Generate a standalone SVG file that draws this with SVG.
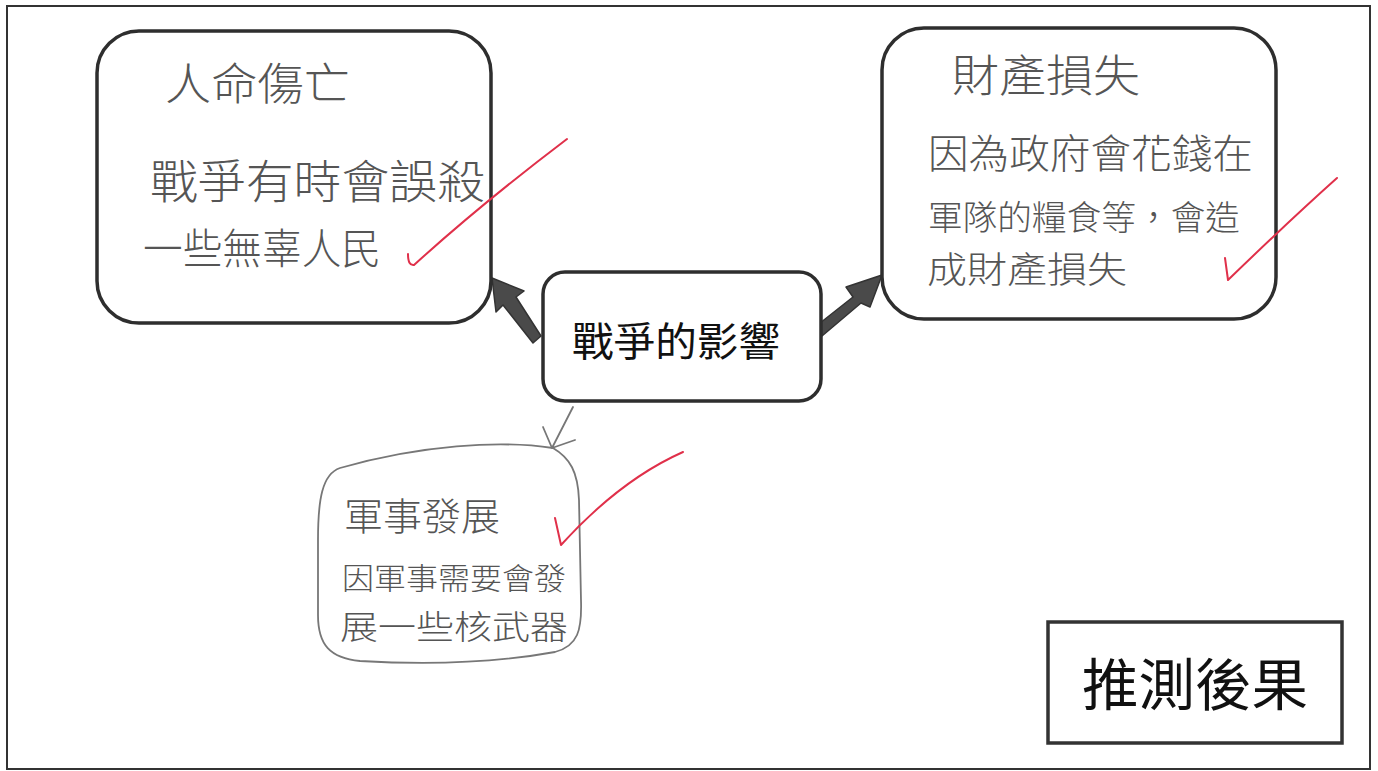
<svg xmlns="http://www.w3.org/2000/svg" width="1378" height="771" viewBox="0 0 1378 771">
<style>
.box{fill:#fff;stroke:#2e2e2e;stroke-width:3.5}
.hand{font-family:"Noto Sans CJK TC","Noto Sans CJK SC",sans-serif;font-weight:300;fill:#555}
.print{font-family:"Noto Sans CJK TC","Noto Sans CJK SC",sans-serif;font-weight:400;fill:#111}
.pencil{fill:none;stroke:#777;stroke-width:1.8;stroke-linecap:round;stroke-linejoin:round}
.check{fill:none;stroke:#e0304a;stroke-width:2;stroke-linecap:round;stroke-linejoin:round}
.thick{fill:#4a4a4a;stroke:#333;stroke-width:1.5;stroke-linejoin:round}
</style>
<rect width="1378" height="771" fill="#fff"/>
<rect id="frame" x="7" y="6" width="1363" height="763" fill="none" stroke="#333" stroke-width="2"/>

<g id="connectors">
  <polygon class="thick" points="541,336 533,343 503,305 496,312 492,278 524,291 516,297"/>
  <polygon class="thick" points="822,336 815,327 853,297 846,287 882,275 870,307 861,303"/>
  <path class="pencil" d="M573,407 L552,448 M543,427 L552,448 L575,440"/>
</g>

<g id="node-left">
  <rect class="box" x="97" y="31" width="394" height="292" rx="42"/>
  <text class="hand" x="165" y="100" font-size="44" textLength="185" lengthAdjust="spacingAndGlyphs">人命傷亡</text>
  <text class="hand" x="150" y="198" font-size="46" textLength="335" lengthAdjust="spacingAndGlyphs">戰爭有時會誤殺</text>
  <text class="hand" x="143" y="264" font-size="42" textLength="238" lengthAdjust="spacingAndGlyphs">一些無辜人民</text>
</g>

<g id="node-right">
  <rect class="box" x="882" y="28" width="394" height="291" rx="42"/>
  <text class="hand" x="952" y="92" font-size="44" textLength="188" lengthAdjust="spacingAndGlyphs">財產損失</text>
  <text class="hand" x="928" y="168" font-size="40" textLength="325" lengthAdjust="spacingAndGlyphs">因為政府會花錢在</text>
  <text class="hand" x="928" y="230" font-size="34" textLength="312" lengthAdjust="spacingAndGlyphs">軍隊的糧食等，會造</text>
  <text class="hand" x="927" y="283" font-size="36" textLength="200" lengthAdjust="spacingAndGlyphs">成財產損失</text>
</g>

<g id="node-center">
  <rect class="box" x="543" y="272" width="278" height="129" rx="22"/>
  <text class="print" x="572" y="356" font-size="40" textLength="208" lengthAdjust="spacingAndGlyphs">戰爭的影響</text>
</g>

<g id="node-bottom">
  <path class="pencil" d="M553,448 C500,440 420,445 340,468 C322,474 318,500 318,540 L318,615 C318,645 330,658 360,661 C430,665 500,662 555,652 C578,646 582,630 581,600 L579,500 C578,472 570,458 553,448 Z"/>
  <text class="hand" x="344" y="530" font-size="38" textLength="156" lengthAdjust="spacingAndGlyphs">軍事發展</text>
  <text class="hand" x="342" y="589" font-size="30" textLength="224" lengthAdjust="spacingAndGlyphs">因軍事需要會發</text>
  <text class="hand" x="340" y="639" font-size="33" textLength="228" lengthAdjust="spacingAndGlyphs">展一些核武器</text>
</g>

<g id="node-label">
  <rect x="1048" y="622" width="294" height="121" fill="#fff" stroke="#333" stroke-width="3.5"/>
  <text class="print" x="1082" y="705" font-size="56" textLength="226" lengthAdjust="spacingAndGlyphs">推測後果</text>
</g>

<g id="marks">
  <path class="check" d="M408,254 Q408,266 414,265 Q480,205 567,139"/>
  <path class="check" d="M1225,258 L1228,280 Q1290,220 1337,178"/>
  <path class="check" d="M555,518 L561,545 Q620,480 683,452"/>
</g>
</svg>
